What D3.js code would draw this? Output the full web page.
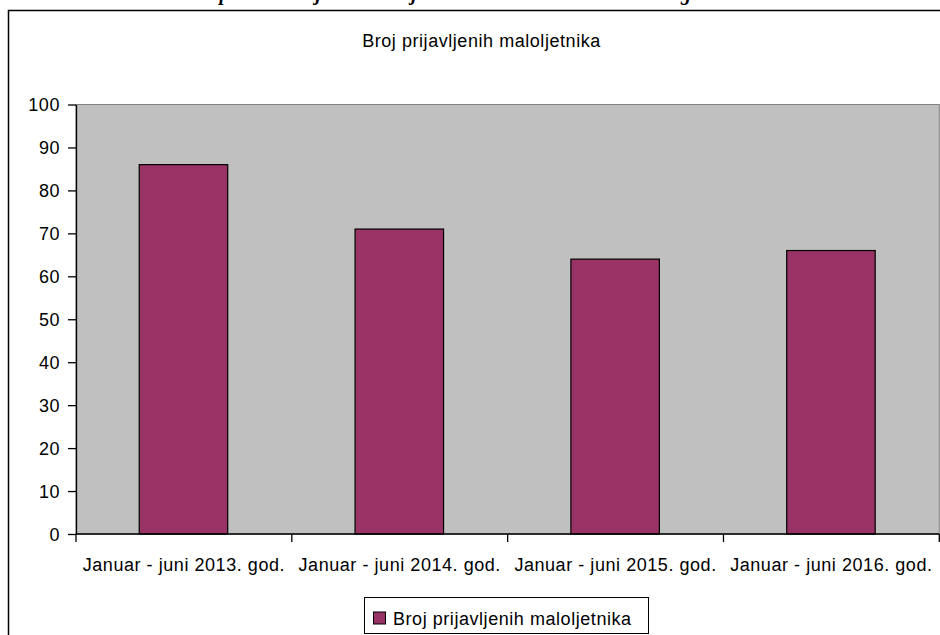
<!DOCTYPE html>
<html>
<head>
<meta charset="utf-8">
<title>Broj prijavljenih maloljetnika</title>
<script src="https://cdn.jsdelivr.net/npm/d3@7"></script>
<style>
body { margin: 0; background: #fff; }
svg text { font-family: Arial, "Liberation Sans", sans-serif; font-size: 18px; letter-spacing: 0.55px; fill: #000; }
.heading { font-family: "Liberation Serif", "Times New Roman", serif; font-weight: bold; font-style: italic; font-size: 20px; letter-spacing: 0; }
.plot-bg { fill: #c0c0c0; stroke: #808080; stroke-width: 1; }
.bar { fill: #993366; stroke: #000; stroke-width: 1.2; }
.axis path, .axis line { stroke: #000; stroke-width: 1.3; }
</style>
</head>
<body>
<script>
// data
var categories = ["Januar - juni 2013. god.", "Januar - juni 2014. god.", "Januar - juni 2015. god.", "Januar - juni 2016. god."];
var values = [86, 71, 64, 66];
var seriesName = "Broj prijavljenih maloljetnika";
var chartTitle = "Broj prijavljenih maloljetnika";
var yTicks = [0, 10, 20, 30, 40, 50, 60, 70, 80, 90, 100];
var pageHeading = "Uporedni broj svih maloljetnika od 2013. do 2016. tekuće godine";

var width = 940, height = 635;
var plot = {left: 76, right: 939.3, top: 104.5, bottom: 534};

var svg = d3.select("body").append("svg")
    .attr("width", width)
    .attr("height", height);

// heading above the chart frame, mostly cut off at the top
svg.append("text")
    .attr("class", "heading")
    .attr("x", 205)
    .attr("y", 0)
    .text(pageHeading);

// chart frame
svg.append("rect")
    .attr("x", 8.5)
    .attr("y", 10.5)
    .attr("width", 960)
    .attr("height", 660)
    .attr("fill", "#fff")
    .attr("stroke", "#000")
    .attr("stroke-width", 1.5);

svg.append("text")
    .attr("x", 481.5)
    .attr("y", 47)
    .attr("text-anchor", "middle")
    .text(chartTitle);

var x = d3.scaleBand()
    .domain(categories)
    .range([plot.left, plot.right])
    .padding(0);

var y = d3.scaleLinear()
    .domain([0, 100])
    .range([plot.bottom, plot.top]);

svg.append("rect")
    .attr("class", "plot-bg")
    .attr("x", plot.left)
    .attr("y", plot.top)
    .attr("width", plot.right - plot.left)
    .attr("height", plot.bottom - plot.top);

// bars
var barOffset = 0.293, barWidth = 0.41;
svg.append("g").selectAll("rect")
    .data(values)
  .enter().append("rect")
    .attr("class", "bar")
    .attr("x", function(d, i) { return x(categories[i]) + x.bandwidth() * barOffset; })
    .attr("y", function(d) { return y(d); })
    .attr("width", x.bandwidth() * barWidth)
    .attr("height", function(d) { return y(0) - y(d); });

// y axis
var yAxis = svg.append("g")
    .attr("class", "axis")
    .attr("transform", "translate(" + plot.left + ",0)")
    .call(d3.axisLeft(y).tickValues(yTicks).tickSize(8).tickSizeOuter(0).tickPadding(8));
yAxis.selectAll("text").style("font-family", null).attr("dy", "0.36em");

// x axis: ticks at category boundaries
var xAxis = svg.append("g")
    .attr("class", "axis")
    .attr("transform", "translate(0," + plot.bottom + ")");
xAxis.append("line")
    .attr("x1", plot.left).attr("x2", plot.right);
var bounds = categories.map(function(c) { return x(c); }).concat([plot.right]);
xAxis.selectAll(".tick-mark")
    .data(bounds)
  .enter().append("line")
    .attr("class", "tick-mark")
    .attr("x1", function(d) { return d; })
    .attr("x2", function(d) { return d; })
    .attr("y1", 0)
    .attr("y2", 8);
xAxis.selectAll(".cat-label")
    .data(categories)
  .enter().append("text")
    .attr("class", "cat-label")
    .attr("x", function(d) { return x(d) + x.bandwidth() / 2; })
    .attr("y", 37)
    .attr("text-anchor", "middle")
    .text(function(d) { return d; });

// legend
var legend = svg.append("g");
legend.append("rect")
    .attr("x", 364.5)
    .attr("y", 597.5)
    .attr("width", 284)
    .attr("height", 36)
    .attr("fill", "#fff")
    .attr("stroke", "#000")
    .attr("stroke-width", 1);
legend.append("rect")
    .attr("x", 373.5)
    .attr("y", 612)
    .attr("width", 12)
    .attr("height", 12)
    .attr("fill", "#993366")
    .attr("stroke", "#000")
    .attr("stroke-width", 1);
legend.append("text")
    .attr("x", 393)
    .attr("y", 625)
    .text(seriesName);
</script>
</body>
</html>
